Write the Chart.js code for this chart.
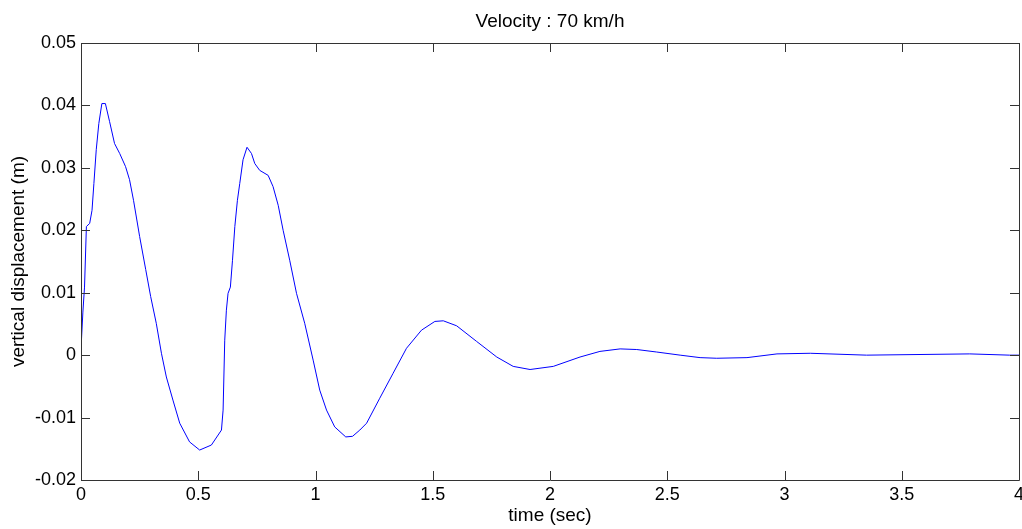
<!DOCTYPE html>
<html>
<head>
<meta charset="utf-8">
<script src="https://cdn.jsdelivr.net/npm/chart.js@4.4.0/dist/chart.umd.min.js"></script>
<style>
  html, body { margin: 0; padding: 0; background: #fff; }
  #wrap { width: 1022px; height: 529px; }
</style>
</head>
<body>
<div id="wrap"><canvas id="chart"></canvas></div>
<script>
// Data
const times = [0, 0.008, 0.015, 0.023, 0.037, 0.047, 0.055, 0.065, 0.076, 0.089, 0.104, 0.122, 0.143, 0.165,
    0.190, 0.207, 0.224, 0.250, 0.276, 0.297, 0.321, 0.343, 0.364, 0.392, 0.421, 0.463, 0.506, 0.556, 0.599,
    0.606, 0.613, 0.620, 0.627, 0.637, 0.646, 0.656, 0.667, 0.677, 0.691, 0.708, 0.727, 0.741, 0.762, 0.798,
    0.819, 0.841, 0.862, 0.890, 0.919, 0.954, 0.990, 1.018, 1.047, 1.082, 1.129, 1.158, 1.189, 1.218, 1.274,
    1.331, 1.388, 1.452, 1.509, 1.545, 1.602, 1.687, 1.773, 1.843, 1.915, 2.014, 2.128, 2.213, 2.299, 2.370,
    2.455, 2.555, 2.640, 2.711, 2.840, 2.968, 3.110, 3.350, 3.790, 3.960, 4.000];
const displacement = [0.0010, 0.0069, 0.0109, 0.0206, 0.0211, 0.0232, 0.0275, 0.0329, 0.0371, 0.0403, 0.0403,
    0.0374, 0.0339, 0.0323, 0.0302, 0.0281, 0.0248, 0.0190, 0.0137, 0.0094, 0.0051, 0.0003, -0.0035, -0.0072,
    -0.0109, -0.0139, -0.0152, -0.0144, -0.0120, -0.0088, 0.0024, 0.0072, 0.0099, 0.0109, 0.0152, 0.0206,
    0.0248, 0.0275, 0.0313, 0.0333, 0.0323, 0.0307, 0.0296, 0.0288, 0.0270, 0.0240, 0.0200, 0.0152, 0.0099,
    0.0051, -0.0008, -0.0056, -0.0088, -0.0115, -0.0131, -0.0130, -0.0120, -0.0109, -0.0069, -0.0029, 0.0011,
    0.0040, 0.0054, 0.0055, 0.0047, 0.0022, -0.0003, -0.0018, -0.0023, -0.0018, -0.0003, 0.0006, 0.0010,
    0.0009, 0.0005, 0.0000, -0.0004, -0.0005, -0.0004, 0.0002, 0.0003, 0.0000, 0.0002, 0.0000, 0.0000];
const xTickVals = [0, 0.5, 1, 1.5, 2, 2.5, 3, 3.5, 4];
const yTickVals = [-0.02, -0.01, 0, 0.01, 0.02, 0.03, 0.04, 0.05];
const xTickLabels = ['0', '0.5', '1', '1.5', '2', '2.5', '3', '3.5', '4'];
const yTickLabels = ['-0.02', '-0.01', '0', '0.01', '0.02', '0.03', '0.04', '0.05'];

const FONT = '"Liberation Sans", Arial, sans-serif';
const AXIS_COLOR = '#333333';
const TICK_LEN = 9;

// MATLAB style box with inward ticks on all four sides
const boxTicks = {
    id: 'boxTicks',
    afterDraw(chart) {
        const ctx = chart.ctx;
        const a = chart.chartArea;
        const xs = chart.scales.x;
        const ys = chart.scales.y;
        ctx.save();
        ctx.strokeStyle = AXIS_COLOR;
        ctx.lineWidth = 1;
        ctx.beginPath();
        ctx.rect(Math.round(a.left) + 0.5, Math.round(a.top) + 0.5,
            Math.round(a.right - a.left), Math.round(a.bottom - a.top));
        xs.ticks.forEach(t => {
            const px = Math.round(xs.getPixelForValue(t.value)) + 0.5;
            ctx.moveTo(px, a.bottom);
            ctx.lineTo(px, a.bottom - TICK_LEN);
            ctx.moveTo(px, a.top);
            ctx.lineTo(px, a.top + TICK_LEN);
        });
        ys.ticks.forEach(t => {
            const py = Math.round(ys.getPixelForValue(t.value)) + 0.5;
            ctx.moveTo(a.left, py);
            ctx.lineTo(a.left + TICK_LEN, py);
            ctx.moveTo(a.right, py);
            ctx.lineTo(a.right - TICK_LEN, py);
        });
        ctx.stroke();
        ctx.restore();
    }
};

// fixed axis sizes, no label overhang padding
function fixSize(w, h) {
    return s => {
        if (w !== null) s.width = w;
        if (h !== null) s.height = h;
        s.paddingLeft = 0;
        s.paddingRight = 0;
        s.paddingTop = 0;
        s.paddingBottom = 0;
    };
}

new Chart(document.getElementById('chart'), {
    type: 'line',
    data: {
        datasets: [{
            data: times.map((t, i) => ({ x: t, y: displacement[i] })),
            borderColor: '#0000ff',
            borderWidth: 1,
            pointRadius: 0,
            tension: 0,
            fill: false
        }]
    },
    options: {
        responsive: true,
        maintainAspectRatio: false,
        animation: false,
        layout: { autoPadding: false, padding: { left: 0, right: 3, top: 0, bottom: 0 } },
        plugins: {
            legend: { display: false },
            tooltip: { enabled: false },
            title: { display: false }
        },
        scales: {
            x: {
                type: 'linear',
                min: 0,
                max: 4,
                afterBuildTicks: s => { s.ticks = xTickVals.map(v => ({ value: v })); },
                afterFit: fixSize(null, 49),
                grid: { display: false, drawTicks: false },
                border: { display: false },
                ticks: {
                    color: '#000',
                    padding: 4,
                    maxRotation: 0,
                    font: { family: FONT, size: 18 },
                    callback: (v) => xTickLabels[xTickVals.indexOf(v)]
                },
                title: {
                    display: true,
                    text: 'time (sec)',
                    color: '#000',
                    font: { family: FONT, size: 19 },
                    padding: { top: 2, bottom: 2 }
                }
            },
            // top axis only carries the plot title, centred over the plot box
            xTop: {
                type: 'linear',
                position: 'top',
                min: 0,
                max: 4,
                afterFit: fixSize(null, 43),
                grid: { display: false, drawTicks: false },
                border: { display: false },
                ticks: { display: false },
                title: {
                    display: true,
                    text: 'Velocity : 70 km/h',
                    color: '#000',
                    font: { family: FONT, size: 19 },
                    padding: { top: 10, bottom: 10 }
                }
            },
            y: {
                type: 'linear',
                min: -0.02,
                max: 0.05,
                afterBuildTicks: s => { s.ticks = yTickVals.map(v => ({ value: v })); },
                afterFit: fixSize(81, null),
                grid: { display: false, drawTicks: false },
                border: { display: false },
                ticks: {
                    color: '#000',
                    padding: 5,
                    font: { family: FONT, size: 18 },
                    callback: (v) => yTickLabels[yTickVals.indexOf(v)]
                },
                title: {
                    display: true,
                    text: 'vertical displacement (m)',
                    color: '#000',
                    font: { family: FONT, size: 19 },
                    padding: { top: 7, bottom: 7 }
                }
            }
        }
    },
    plugins: [boxTicks]
});
</script>
</body>
</html>
